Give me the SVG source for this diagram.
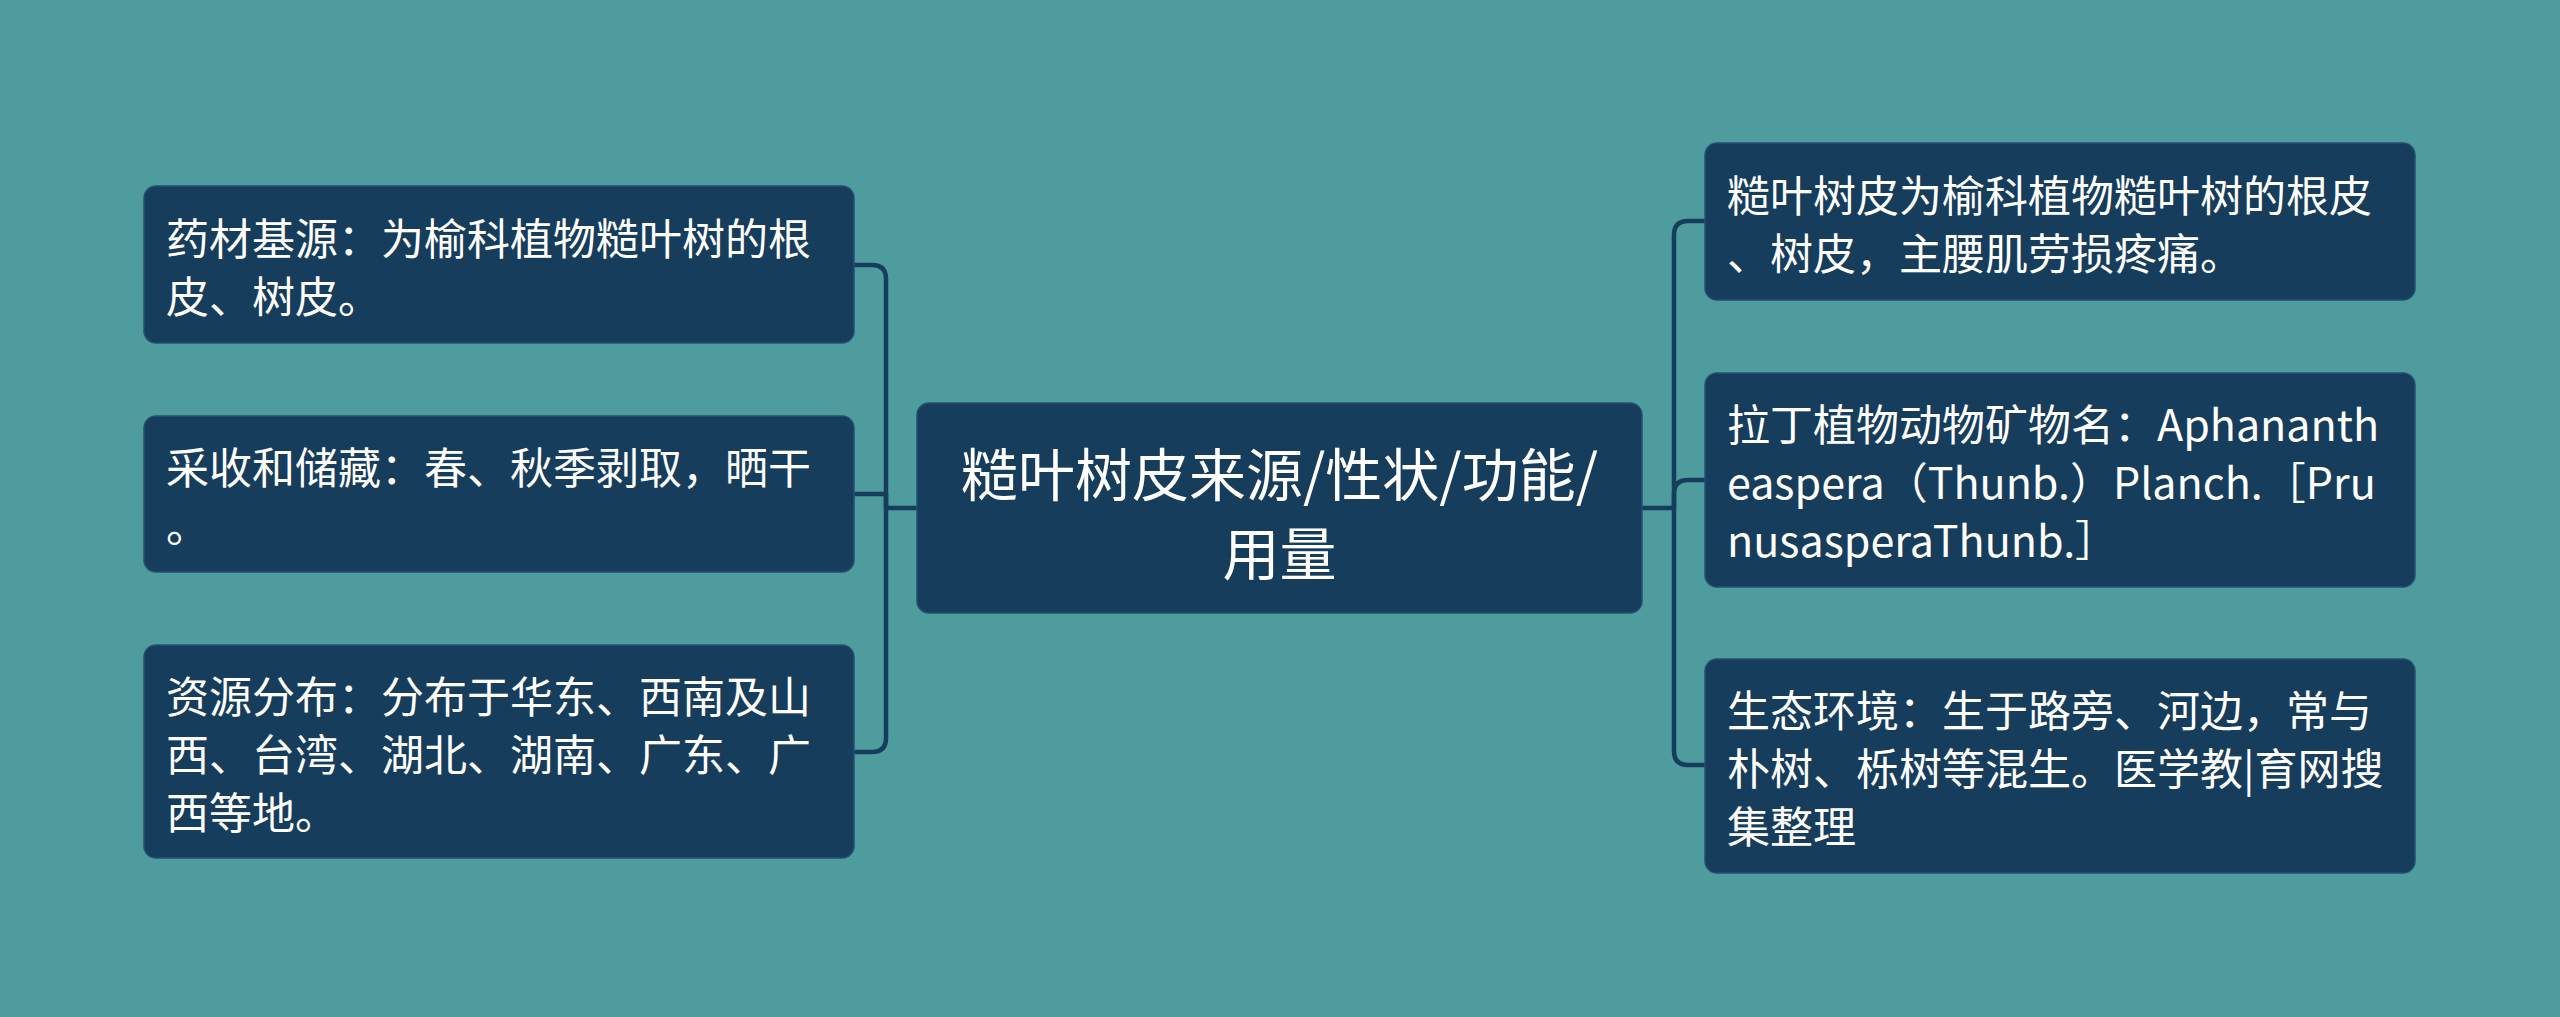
<svg xmlns="http://www.w3.org/2000/svg" width="2560" height="1017" viewBox="0 0 2560 1017">
<style>
.bg{fill:#4e9c9d}
.node{fill:#173d5d;stroke:#245070;stroke-width:1.5}
.conn{fill:none;stroke:#173d5d;stroke-width:4.5;stroke-linejoin:round}
.t{font-family:"Noto Sans CJK SC","Noto Sans",sans-serif;font-size:43px;fill:#ffffff;dominant-baseline:central}
.c{font-family:"Noto Sans CJK SC","Noto Sans",sans-serif;font-size:57px;fill:#ffffff;dominant-baseline:central;text-anchor:middle}
</style>
<rect class="bg" x="0" y="0" width="2560" height="1017"/>
<g id="connectors">
<path class="conn" d="M917,508 H886"/>
<path class="conn" d="M886,508 V279 Q886,265 872,265 H854"/>
<path class="conn" d="M886,508 V494 H854"/>
<path class="conn" d="M886,508 V738 Q886,752 872,752 H854"/>
<path class="conn" d="M1642,508 H1674"/>
<path class="conn" d="M1674,508 V235 Q1674,221 1688,221 H1705"/>
<path class="conn" d="M1674,508 V494 Q1674,480 1688,480 H1705"/>
<path class="conn" d="M1674,508 V751 Q1674,765 1688,765 H1705"/>
</g>
<g id="center">
<rect class="node" x="917" y="403" width="725" height="210" rx="12"/>
<text class="c" x="1279.5" y="471">糙叶树皮来源/性状/功能/</text>
<text class="c" x="1279.5" y="550">用量</text>
</g>
<g id="left1">
<rect class="node" x="144" y="186" width="710" height="157" rx="12"/>
<text class="t" x="166" y="236">药材基源：为榆科植物糙叶树的根</text>
<text class="t" x="166" y="294">皮、树皮。</text>
</g>
<g id="left2">
<rect class="node" x="144" y="416" width="710" height="156" rx="12"/>
<text class="t" x="166" y="465">采收和储藏：春、秋季剥取，晒干</text>
<text class="t" x="166" y="523">。</text>
</g>
<g id="left3">
<rect class="node" x="144" y="645" width="710" height="213" rx="12"/>
<text class="t" x="166" y="694">资源分布：分布于华东、西南及山</text>
<text class="t" x="166" y="752">西、台湾、湖北、湖南、广东、广</text>
<text class="t" x="166" y="810">西等地。</text>
</g>
<g id="right1">
<rect class="node" x="1705" y="143" width="710" height="157" rx="12"/>
<text class="t" x="1727" y="193">糙叶树皮为榆科植物糙叶树的根皮</text>
<text class="t" x="1727" y="251">、树皮，主腰肌劳损疼痛。</text>
</g>
<g id="right2">
<rect class="node" x="1705" y="373" width="710" height="214" rx="12"/>
<text class="t" x="1727" y="422">拉丁植物动物矿物名：Aphananth</text>
<text class="t" x="1727" y="480">easpera（Thunb.）Planch.［Pru</text>
<text class="t" x="1727" y="538">nusasperaThunb.］</text>
</g>
<g id="right3">
<rect class="node" x="1705" y="659" width="710" height="214" rx="12"/>
<text class="t" x="1727" y="708">生态环境：生于路旁、河边，常与</text>
<text class="t" x="1727" y="766">朴树、栎树等混生。医学教|育网搜</text>
<text class="t" x="1727" y="824">集整理</text>
</g>
</svg>
